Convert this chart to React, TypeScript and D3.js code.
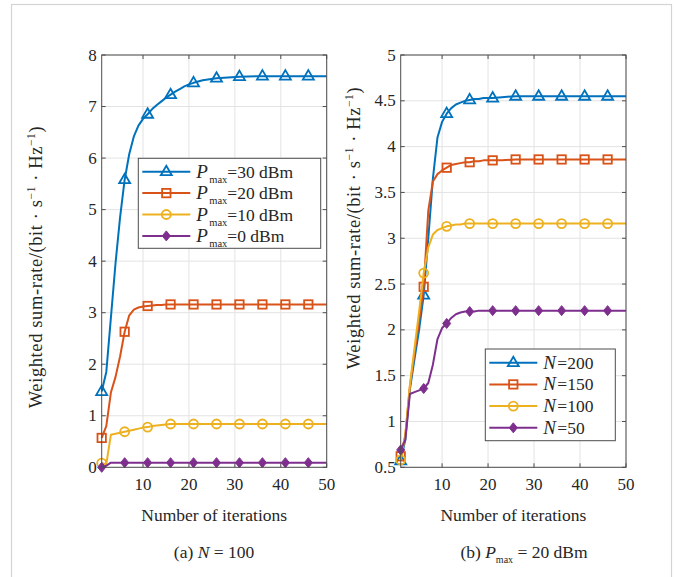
import { useEffect, useRef } from "react";
import * as d3 from "d3";

const iterations = [1, 2, 3, 4, 5, 6, 7, 8, 9, 10, 11, 12, 13, 14, 15, 16, 17, 18, 19, 20, 21, 23, 26, 31, 36, 41, 46, 50];

// (a) N = 100, different Pmax
const pmax30 = [1.47, 1.85, 2.9, 3.95, 4.85, 5.58, 6.08, 6.42, 6.63, 6.76, 6.85, 6.95, 7.03, 7.1, 7.17, 7.23, 7.29, 7.34, 7.39, 7.43, 7.46, 7.51, 7.55, 7.58, 7.59, 7.59, 7.59, 7.59];
const pmax20 = [0.57, 0.8, 1.45, 1.75, 2.15, 2.63, 2.95, 3.06, 3.1, 3.12, 3.13, 3.14, 3.15, 3.15, 3.16, 3.16, 3.16, 3.16, 3.16, 3.16, 3.16, 3.16, 3.16, 3.16, 3.16, 3.16, 3.16, 3.16];
const pmax10 = [0.08, 0.06, 0.63, 0.65, 0.67, 0.69, 0.71, 0.73, 0.75, 0.77, 0.78, 0.8, 0.81, 0.82, 0.83, 0.84, 0.84, 0.84, 0.84, 0.84, 0.84, 0.84, 0.84, 0.84, 0.84, 0.84, 0.84, 0.84];
const pmax0 = [0.0, 0.03, 0.09, 0.09, 0.09, 0.09, 0.09, 0.09, 0.09, 0.09, 0.09, 0.09, 0.09, 0.09, 0.09, 0.09, 0.09, 0.09, 0.09, 0.09, 0.09, 0.09, 0.09, 0.09, 0.09, 0.09, 0.09, 0.09];
const pmaxLabels = ["30", "20", "10", "0"];

// (b) Pmax = 20 dBm, different N
const n200 = [0.57, 0.8, 1.35, 1.68, 2.0, 2.38, 3.0, 3.65, 4.1, 4.27, 4.36, 4.42, 4.46, 4.48, 4.5, 4.51, 4.52, 4.52, 4.53, 4.53, 4.53, 4.54, 4.55, 4.55, 4.55, 4.55, 4.55, 4.55];
const n150 = [0.62, 0.85, 1.38, 1.75, 2.1, 2.47, 3.3, 3.62, 3.7, 3.74, 3.77, 3.8, 3.81, 3.82, 3.83, 3.83, 3.84, 3.84, 3.85, 3.85, 3.85, 3.85, 3.86, 3.86, 3.86, 3.86, 3.86, 3.86];
const n100 = [0.58, 0.85, 1.4, 1.8, 2.2, 2.62, 2.9, 3.04, 3.09, 3.11, 3.13, 3.14, 3.15, 3.15, 3.16, 3.16, 3.16, 3.16, 3.16, 3.16, 3.16, 3.16, 3.16, 3.16, 3.16, 3.16, 3.16, 3.16];
const n50 = [0.69, 0.8, 1.3, 1.32, 1.34, 1.36, 1.42, 1.62, 1.9, 2.02, 2.07, 2.13, 2.17, 2.19, 2.2, 2.2, 2.2, 2.21, 2.21, 2.21, 2.21, 2.21, 2.21, 2.21, 2.21, 2.21, 2.21, 2.21];
const nLabels = ["200", "150", "100", "50"];

const xTicks = [10, 20, 30, 40, 50];
const yTicksA = [0, 1, 2, 3, 4, 5, 6, 7, 8];
const yTicksB = [0.5, 1, 1.5, 2, 2.5, 3, 3.5, 4, 4.5, 5];

const colors = ["#0072BD", "#D95319", "#EDB120", "#7E2F8E"];
const markers = ["triangle", "square", "circle", "diamond"];
const FONT = "Liberation Serif, Tinos, Times New Roman, DejaVu Serif, serif";

function drawMarker(g, type, x, y, color) {
  if (type === "triangle") {
    g.append("path")
      .attr("d", `M${x},${y - 6}L${x + 5.5},${y + 3.5}L${x - 5.5},${y + 3.5}Z`)
      .attr("fill", "none").attr("stroke", color).attr("stroke-width", 1.8);
  } else if (type === "square") {
    g.append("rect")
      .attr("x", x - 4.2).attr("y", y - 4.2).attr("width", 8.4).attr("height", 8.4)
      .attr("fill", "none").attr("stroke", color).attr("stroke-width", 1.8);
  } else if (type === "circle") {
    g.append("circle")
      .attr("cx", x).attr("cy", y).attr("r", 4.5)
      .attr("fill", "none").attr("stroke", color).attr("stroke-width", 1.8);
  } else {
    g.append("path")
      .attr("d", `M${x},${y - 5}L${x + 4},${y}L${x},${y + 5}L${x - 4},${y}Z`)
      .attr("fill", color).attr("stroke", color).attr("stroke-width", 1);
  }
}

function drawPanel(svg, opts) {
  const { left, right, top, bottom, yDomain, yTicks, series, yFmt } = opts;
  const x = d3.scaleLinear().domain([1, 50]).range([left, right]);
  const y = d3.scaleLinear().domain(yDomain).range([bottom, top]);
  const g = svg.append("g");

  // grid
  g.selectAll("line.gx").data(xTicks).enter().append("line")
    .attr("x1", d => x(d)).attr("x2", d => x(d)).attr("y1", top).attr("y2", bottom)
    .attr("stroke", "#e3e3e3").attr("stroke-width", 1);
  g.selectAll("line.gy").data(yTicks).enter().append("line")
    .attr("x1", left).attr("x2", right).attr("y1", d => y(d)).attr("y2", d => y(d))
    .attr("stroke", "#e3e3e3").attr("stroke-width", 1);

  // curves
  const line = d3.line().x(d => x(d[0])).y(d => y(d[1]));
  series.forEach((vals, i) => {
    const pts = iterations.map((it, k) => [it, vals[k]]);
    g.append("path").datum(pts).attr("d", line)
      .attr("fill", "none").attr("stroke", colors[i]).attr("stroke-width", 2)
      .attr("stroke-linejoin", "round");
    pts.filter(p => (p[0] - 1) % 5 === 0).forEach(p => drawMarker(g, markers[i], x(p[0]), y(p[1]), colors[i]));
  });

  // box and ticks
  g.append("rect")
    .attr("x", left).attr("y", top).attr("width", right - left).attr("height", bottom - top)
    .attr("fill", "none").attr("stroke", "#4d4d4d").attr("stroke-width", 1);
  xTicks.forEach(t => {
    g.append("line").attr("x1", x(t)).attr("x2", x(t)).attr("y1", bottom).attr("y2", bottom - 4).attr("stroke", "#4d4d4d");
    g.append("line").attr("x1", x(t)).attr("x2", x(t)).attr("y1", top).attr("y2", top + 4).attr("stroke", "#4d4d4d");
    g.append("text").attr("x", x(t)).attr("y", bottom + 23).attr("text-anchor", "middle")
      .attr("font-family", FONT).attr("font-size", 17).attr("fill", "#262626").text(t);
  });
  yTicks.forEach(t => {
    g.append("line").attr("x1", left).attr("x2", left + 4).attr("y1", y(t)).attr("y2", y(t)).attr("stroke", "#4d4d4d");
    g.append("line").attr("x1", right).attr("x2", right - 4).attr("y1", y(t)).attr("y2", y(t)).attr("stroke", "#4d4d4d");
    g.append("text").attr("x", left - 5).attr("y", y(t) + 5.5).attr("text-anchor", "end")
      .attr("font-family", FONT).attr("font-size", 17).attr("fill", "#262626").text(yFmt(t));
  });

  // x label
  g.append("text").attr("x", (left + right) / 2).attr("y", bottom + 54).attr("text-anchor", "middle")
    .attr("font-family", FONT).attr("font-size", 17.5).attr("fill", "#262626").text("Number of iterations");

  // y label
  const yl = g.append("text")
    .attr("transform", `translate(${opts.yLabelX},${opts.yLabelY}) rotate(-90)`)
    .attr("text-anchor", "middle").attr("font-family", FONT).attr("font-size", 18.5)
    .attr("letter-spacing", 0.6).attr("fill", "#262626");
  yl.append("tspan").text("Weighted sum-rate/(bit · s");
  yl.append("tspan").attr("font-size", 11.5).attr("dy", -7).text("−1");
  yl.append("tspan").attr("dy", 7).text(" · Hz");
  yl.append("tspan").attr("font-size", 11.5).attr("dy", -7).text("−1");
  yl.append("tspan").attr("dy", 7).text(")");

  return { x, y };
}

function drawLegend(svg, box, labels, symbol, withSub) {
  const g = svg.append("g");
  g.append("rect").attr("x", box.x).attr("y", box.y).attr("width", box.w).attr("height", box.h)
    .attr("fill", "#ffffff").attr("stroke", "#4d4d4d").attr("stroke-width", 1);
  labels.forEach((lab, i) => {
    const cy = box.y + box.first + i * box.step;
    g.append("line").attr("x1", box.x + 4).attr("x2", box.x + 52).attr("y1", cy).attr("y2", cy)
      .attr("stroke", colors[i]).attr("stroke-width", 2);
    drawMarker(g, markers[i], box.x + 28, cy, colors[i]);
    const tx = box.x + 58;
    g.append("text").attr("x", tx).attr("y", cy + 6).attr("font-family", FONT)
      .attr("font-style", "italic").attr("font-size", 19).attr("fill", "#262626").text(symbol);
    if (withSub) {
      g.append("text").attr("x", tx + 13).attr("y", cy + 11).attr("font-family", FONT)
        .attr("font-size", 10.5).attr("fill", "#262626").text("max");
      g.append("text").attr("x", tx + 31).attr("y", cy + 6).attr("font-family", FONT)
        .attr("font-size", 17.5).attr("fill", "#262626").text(`=${lab} dBm`);
    } else {
      g.append("text").attr("x", tx + 14).attr("y", cy + 6).attr("font-family", FONT)
        .attr("font-size", 17.5).attr("fill", "#262626").text(`=${lab}`);
    }
  });
}

export default function App() {
  const svgRef = useRef(null);

  useEffect(() => {
    const width = 679;
    const height = 577;
    const svg = d3.select(svgRef.current);
    svg.selectAll("*").remove();
    svg.attr("width", width).attr("height", height);

    svg.append("rect").attr("width", width).attr("height", height).attr("fill", "#ffffff");
    svg.append("rect").attr("x", 11.5).attr("y", 4.5).attr("width", 660).attr("height", 620)
      .attr("fill", "none").attr("stroke", "#d4d4d4").attr("stroke-width", 1.2);

    drawPanel(svg, {
      left: 101.7, right: 326.7, top: 55, bottom: 467.3,
      yDomain: [0, 8], yTicks: yTicksA, yFmt: d => String(d),
      series: [pmax30, pmax20, pmax10, pmax0],
      yLabelX: 42, yLabelY: 267
    });
    drawPanel(svg, {
      left: 400.7, right: 626, top: 55, bottom: 467.3,
      yDomain: [0.5, 5], yTicks: yTicksB, yFmt: d => String(d),
      series: [n200, n150, n100, n50],
      yLabelX: 360, yLabelY: 228
    });

    drawLegend(svg, { x: 138.3, y: 158.3, w: 182.4, h: 90, first: 13.4, step: 21.4 }, pmaxLabels, "P", true);
    drawLegend(svg, { x: 485.3, y: 349, w: 130, h: 91.7, first: 13.7, step: 21.7 }, nLabels, "N", false);

    // captions
    const capA = svg.append("text").attr("x", 214).attr("y", 558).attr("text-anchor", "middle")
      .attr("font-family", FONT).attr("font-size", 17.5).attr("fill", "#262626");
    capA.append("tspan").text("(a) ");
    capA.append("tspan").attr("font-style", "italic").text("N");
    capA.append("tspan").text(" = 100");

    const capB = svg.append("text").attr("x", 524).attr("y", 558).attr("text-anchor", "middle")
      .attr("font-family", FONT).attr("font-size", 17.5).attr("fill", "#262626");
    capB.append("tspan").text("(b) ");
    capB.append("tspan").attr("font-style", "italic").text("P");
    capB.append("tspan").attr("font-size", 10).attr("dy", 5).text("max");
    capB.append("tspan").attr("dy", -5).text(" = 20 dBm");
  }, []);

  return (
    <div style={{ position: "absolute", left: 0, top: 0 }}>
      <svg ref={svgRef} style={{ display: "block" }}></svg>
    </div>
  );
}
